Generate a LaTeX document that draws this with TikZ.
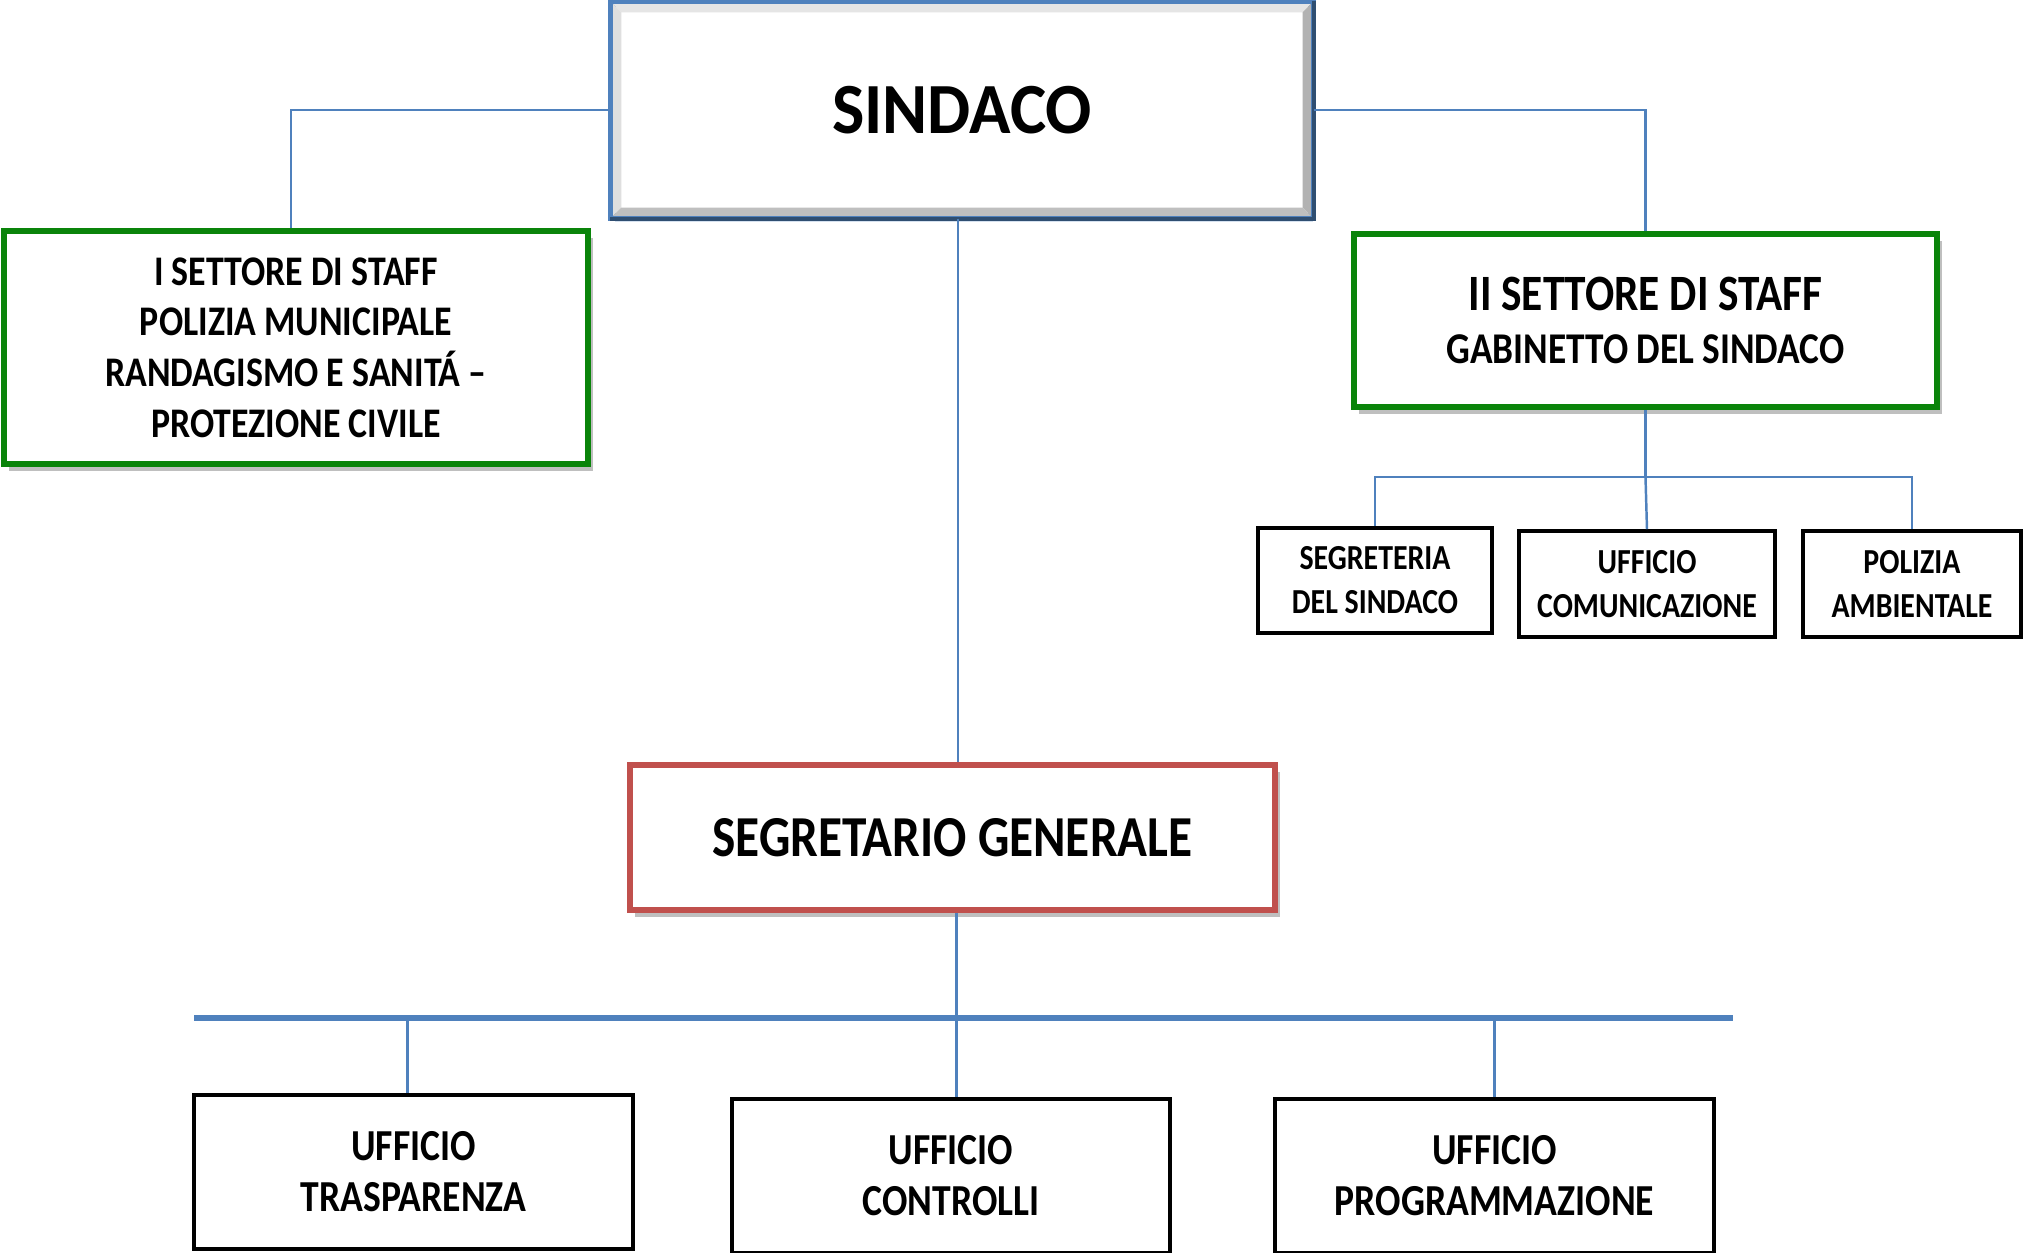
\documentclass[tikz,border=0pt]{standalone}
\usepackage{fontspec}
\setmainfont{Carlito}
\newfontfamily\orgfont{Carlito}[FakeStretch=0.85]
\newfontfamily\mayorfont{Carlito}[FakeStretch=0.95]
\usetikzlibrary{positioning,shadows}

\definecolor{orgblue}{HTML}{4F81BD}
\definecolor{orggreen}{HTML}{0A840A}
\definecolor{orgred}{HTML}{C0504D}

\tikzset{
  link/.style={draw=orgblue, line width=0.7pt},
  mainbus/.style={draw=orgblue, line width=1.8pt},
  boxbase/.style={fill=white, align=center, inner sep=0pt, font=\orgfont\bfseries},
  office/.style={boxbase, draw=black, line width=1pt},
  staffbox/.style={boxbase, draw=orggreen, line width=1.6pt,
    drop shadow={shadow xshift=0.05cm, shadow yshift=-0.07cm, fill=black!50, opacity=0.5}},
  secbox/.style={boxbase, draw=orgred, line width=1.8pt,
    drop shadow={shadow xshift=0.05cm, shadow yshift=-0.07cm, fill=black!50, opacity=0.5}},
  mayorbox/.style={boxbase, draw=orgblue, line width=1.5pt,
    drop shadow={shadow xshift=0.02cm, shadow yshift=-0.06cm, fill=orgblue!60, opacity=0.4}},
}

\begin{document}
\begin{tikzpicture}
  \useasboundingbox (0,0) rectangle (20.25,12.53);
  % top level
  \node[mayorbox, minimum width=6.98cm, minimum height=2.12cm,
        font=\mayorfont\bfseries\fontsize{20.5}{25}\selectfont] (sindaco) at (9.62,11.43) {SINDACO};
  % bevel of the top box
  \fill[gray!20] (sindaco.north west) -- (sindaco.north east) -- ([shift={(-0.11,-0.11)}]sindaco.north east) -- ([shift={(0.11,-0.11)}]sindaco.north west) -- cycle;
  \fill[gray!25] (sindaco.north west) -- (sindaco.south west) -- ([shift={(0.11,0.11)}]sindaco.south west) -- ([shift={(0.11,-0.11)}]sindaco.north west) -- cycle;
  \fill[gray!60] (sindaco.north east) -- (sindaco.south east) -- ([shift={(-0.11,0.11)}]sindaco.south east) -- ([shift={(-0.11,-0.11)}]sindaco.north east) -- cycle;
  \fill[gray!50] (sindaco.south west) -- (sindaco.south east) -- ([shift={(-0.11,0.11)}]sindaco.south east) -- ([shift={(0.11,0.11)}]sindaco.south west) -- cycle;
  \draw[orgblue, line width=1.5pt] (sindaco.south west) rectangle (sindaco.north east);
  \draw[orgblue!60!black, line width=1.2pt] (sindaco.north east) -- (sindaco.south east) -- (sindaco.south west);

  % staff sectors
  \node[staffbox, minimum width=5.84cm, minimum height=2.33cm,
        font=\orgfont\bfseries\fontsize{12}{14.4}\selectfont] (staffone) at (2.96,9.055)
        {I SETTORE DI STAFF\\POLIZIA MUNICIPALE\\RANDAGISMO E SANITÁ –\\PROTEZIONE CIVILE};
  \node[staffbox, minimum width=5.83cm, minimum height=1.73cm] (stafftwo) at (16.455,9.325)
        {{\fontsize{14.5}{16}\selectfont II SETTORE DI STAFF}\\[3pt]{\fontsize{12.5}{15}\selectfont GABINETTO DEL SINDACO}};

  \node[office, minimum width=2.34cm, minimum height=1.05cm,
        font=\orgfont\bfseries\fontsize{10}{12.5}\selectfont] (segsin) at (13.75,6.725) {SEGRETERIA\\DEL SINDACO};
  \node[office, minimum width=2.56cm, minimum height=1.06cm,
        font=\orgfont\bfseries\fontsize{10}{12.5}\selectfont] (comun) at (16.47,6.69) {UFFICIO\\COMUNICAZIONE};
  \node[office, minimum width=2.18cm, minimum height=1.06cm,
        font=\orgfont\bfseries\fontsize{10}{12.5}\selectfont] (polamb) at (19.12,6.69) {POLIZIA\\AMBIENTALE};

  % segretario
  \node[secbox, minimum width=6.45cm, minimum height=1.45cm,
        font=\orgfont\bfseries\fontsize{16.5}{20}\selectfont] (segr) at (9.525,4.155) {SEGRETARIO GENERALE};

  \node[office, minimum width=4.39cm, minimum height=1.54cm,
        font=\orgfont\bfseries\fontsize{12.6}{14.5}\selectfont] (trasp) at (4.135,0.81) {UFFICIO\\TRASPARENZA};
  \node[office, minimum width=4.38cm, minimum height=1.54cm,
        font=\orgfont\bfseries\fontsize{12.6}{14.5}\selectfont] (contr) at (9.51,0.77) {UFFICIO\\CONTROLLI};
  \node[office, minimum width=4.39cm, minimum height=1.54cm,
        font=\orgfont\bfseries\fontsize{12.6}{14.5}\selectfont] (progr) at (14.945,0.77) {UFFICIO\\PROGRAMMAZIONE};

  % connectors
  \draw[link] (sindaco.west) -| ([xshift=-0.05cm]staffone.north);
  \draw[link] (sindaco.east) -| (stafftwo.north);
  \draw[link] (stafftwo.south) -- ++(0,-0.67) coordinate (subbus);
  \draw[link] (segsin.north) |- (subbus) -| (polamb.north);
  \draw[link] (subbus) -- (comun.north);
  \draw[link] ([xshift=-0.04cm]sindaco.south) -- ([xshift=-0.04cm]sindaco.south |- segr.north);
  \draw[link] ([xshift=0.04cm]segr.south) -- ([xshift=0.04cm]segr.south |- contr.north);

  \coordinate (busstart) at (1.94,2.35);
  \coordinate (busend) at (17.33,2.35);
  \draw[mainbus] (busstart) -- (busend);
  \draw[link] ([xshift=-0.06cm]trasp.north) -- ([xshift=-0.06cm]trasp.north |- busstart);
  \draw[link] (progr.north) -- (progr.north |- busstart);
\end{tikzpicture}
\end{document}
